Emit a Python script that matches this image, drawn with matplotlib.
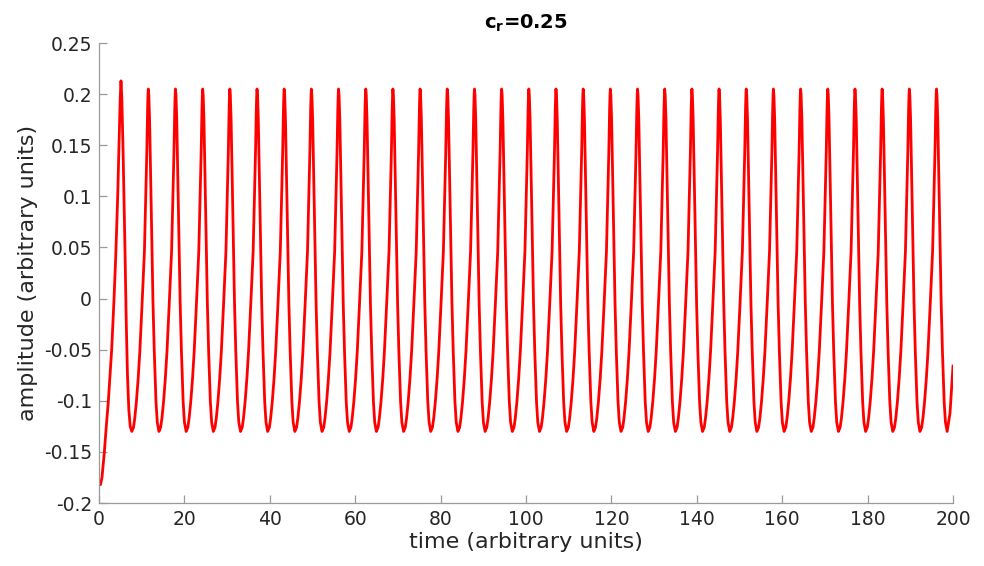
import matplotlib
matplotlib.use("Agg")
import matplotlib.pyplot as plt
import numpy as np
from matplotlib.ticker import FuncFormatter

# start-up part of the trace (time, amplitude)
start_t = [0.0, 0.35, 0.7, 1.24, 1.71, 2.18, 2.97, 3.51, 3.91, 4.38, 4.68,
           4.96, 5.15, 5.34, 5.62, 5.85, 6.09, 6.37, 6.67, 6.98, 7.31]
start_v = [-0.1815, -0.182, -0.175, -0.151, -0.125, -0.101, -0.050, -0.0015,
           0.040, 0.100, 0.149, 0.195, 0.213, 0.197, 0.149, 0.100, 0.047,
           -0.020, -0.075, -0.108, -0.125]

# times of the steady peaks
peak_times = [11.55, 17.91, 24.28, 30.64, 37.01, 43.37, 49.74, 56.10, 62.47,
              68.83, 75.20, 81.56, 87.93, 94.29, 100.66, 107.02, 113.39,
              119.75, 126.12, 132.48, 138.85, 145.21, 151.58, 157.94, 164.31,
              170.67, 177.04, 183.40, 189.77, 196.13]

# one steady cycle, trough to trough, relative to its peak
cycle_dt = [-3.87, -3.47, -3.17, -2.79, -2.37, -1.99, -1.47, -0.91, -0.62,
            -0.35, -0.17, -0.07, 0.0, 0.12, 0.30, 0.55, 0.87, 1.10, 1.40,
            1.80, 2.10]
cycle_v = [-0.130, -0.126, -0.117, -0.101, -0.078, -0.052, -0.006, 0.046,
           0.095, 0.144, 0.185, 0.200, 0.205, 0.199, 0.175, 0.120, 0.046,
           -0.005, -0.052, -0.101, -0.121]

# last bit up to t = 200
end_t = [198.63, 199.3, 200.0]
end_v = [-0.130, -0.112, -0.066]

t = list(start_t)
v = list(start_v)
for tp in peak_times:
    t.extend(tp + d for d in cycle_dt)
    v.extend(cycle_v)
t.extend(end_t)
v.extend(end_v)


def matlab_fmt(y, _):
    y = round(y, 2)
    if abs(y) < 1e-9:
        return "0"
    return "%g" % y


plt.rcParams["font.family"] = "DejaVu Sans"
plt.rcParams["mathtext.fontset"] = "dejavusans"
plt.rcParams["axes.unicode_minus"] = False

fig = plt.figure(figsize=(9.84, 5.66), dpi=100)
ax = fig.add_axes([0.1006, 0.1113, 0.8679, 0.8127])

ax.plot(t, v, color="red", lw=2.0, solid_joinstyle="round")

ax.set_xlim(0, 200)
ax.set_ylim(-0.2, 0.25)
ax.set_xticks(np.arange(0, 201, 20))
ax.set_yticks(np.arange(-0.2, 0.2501, 0.05))
ax.yaxis.set_major_formatter(FuncFormatter(matlab_fmt))

for side in ("top", "right"):
    ax.spines[side].set_visible(False)
for side in ("left", "bottom"):
    ax.spines[side].set_color("#9a9a9a")
    ax.spines[side].set_linewidth(0.9)
ax.tick_params(direction="in", length=6, width=0.9, color="#9a9a9a",
               labelsize=13.5, labelcolor="#262626", pad=5)

ax.set_xlabel("time (arbitrary units)", fontsize=16, color="#262626", labelpad=2)
ax.set_ylabel("amplitude (arbitrary units)", fontsize=16, color="#262626", labelpad=4)
ax.set_title(r"$\mathbf{c_r}$=0.25", fontsize=14, fontweight="bold", pad=10)

fig.savefig("out.png", dpi=100)
